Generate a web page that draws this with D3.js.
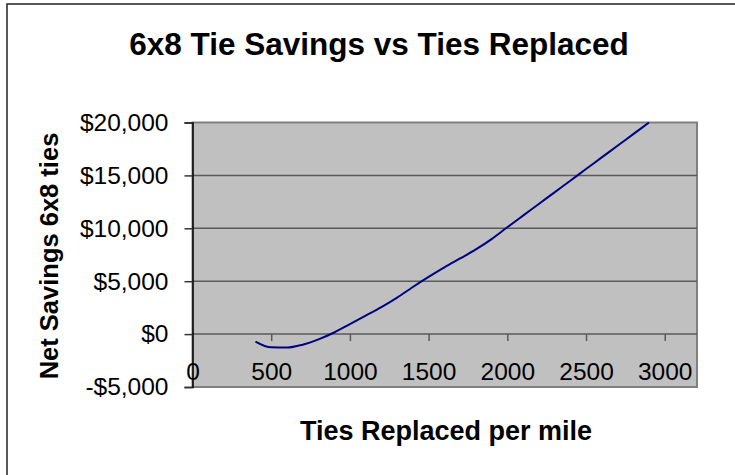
<!DOCTYPE html>
<html lang="en">
<head>
    <meta charset="UTF-8">
    <title>6x8 Tie Savings vs Ties Replaced</title>
    <script src="https://cdnjs.cloudflare.com/ajax/libs/d3/7.8.5/d3.min.js"></script>
    <style type="text/css">
        body { margin: 0; background: #fff; }
        text { font-family: Arial, "Liberation Sans", sans-serif; fill: #000; }
    </style>
</head>
<body>
<svg id="chart" width="735" height="475"></svg>
<script>
    // data
    var tiesReplaced = [400, 500, 600, 700, 800, 900, 1000, 1100, 1200, 1300, 1400, 1500, 1600,
        1700, 1800, 1900, 2000, 2100, 2200, 2300, 2400, 2500, 2600, 2700, 2800, 2900];
    var netSavings = [-700, -1250, -1270, -1000, -500, 150, 950, 1750, 2550, 3450, 4450, 5400, 6300,
        7150, 8000, 8980, 10100, 11200, 12300, 13400, 14500, 15600, 16700, 17800, 18900, 20000];
    var xTicks = [0, 500, 1000, 1500, 2000, 2500, 3000];
    var yTicks = [-5000, 0, 5000, 10000, 15000, 20000];

    var svg = d3.select("#chart");
    var plot = {left: 192.5, right: 697, top: 122.5, bottom: 387};

    var x = d3.scaleLinear().domain([0, 3205]).range([plot.left, plot.right]);
    var y = d3.scaleLinear().domain([-5000, 20000]).range([plot.bottom, plot.top]);

    var data = tiesReplaced.map(function (t, i) {
        return {t: t, v: netSavings[i]};
    });

    // outer frame (runs off the right and bottom edge)
    svg.append("rect")
        .attr("x", 7).attr("y", 4)
        .attr("width", 760).attr("height", 500)
        .attr("fill", "none")
        .attr("stroke", "#222")
        .attr("stroke-width", 1.5);

    // plot background
    svg.append("rect")
        .attr("x", plot.left).attr("y", plot.top)
        .attr("width", plot.right - plot.left)
        .attr("height", plot.bottom - plot.top)
        .attr("fill", "#c0c0c0")
        .attr("stroke", "#808080")
        .attr("stroke-width", 2);

    // gridlines
    svg.append("g")
        .selectAll("line")
        .data(yTicks.filter(function (d) { return d > -5000 && d < 20000; }))
        .join("line")
        .attr("x1", plot.left).attr("x2", plot.right)
        .attr("y1", function (d) { return y(d); })
        .attr("y2", function (d) { return y(d); })
        .attr("stroke", "#5a5a5a")
        .attr("stroke-width", 1.5);

    // y axis
    var yAxis = svg.append("g")
        .attr("transform", "translate(" + plot.left + ",0)")
        .call(d3.axisLeft(y).tickValues(yTicks).tickSize(8).tickPadding(16)
            .tickFormat(function (d) { return (d < 0 ? "-$" : "$") + d3.format(",")(Math.abs(d)); }));
    yAxis.select(".domain").attr("stroke", "#000").attr("stroke-width", 1.5);
    yAxis.selectAll(".tick line").attr("stroke", "#333").attr("stroke-width", 1.5);
    yAxis.selectAll(".tick text")
        .attr("font-size", "24.5px")
        .attr("font-family", "Arial, 'Liberation Sans', sans-serif")
        .attr("fill", "#000");

    // x axis crosses at zero
    var xAxis = svg.append("g")
        .attr("transform", "translate(0," + y(0) + ")")
        .call(d3.axisBottom(x).tickValues(xTicks).tickSize(7).tickPadding(22)
            .tickFormat(d3.format("d")));
    xAxis.select(".domain").remove();
    xAxis.selectAll(".tick line").attr("stroke", "#5a5a5a").attr("stroke-width", 1.5)
        .filter(function (d) { return d === 0; }).remove();
    xAxis.selectAll(".tick text")
        .attr("font-size", "24.5px")
        .attr("font-family", "Arial, 'Liberation Sans', sans-serif")
        .attr("fill", "#000");

    // the series
    svg.append("path")
        .datum(data)
        .attr("fill", "none")
        .attr("stroke", "#000080")
        .attr("stroke-width", 2)
        .attr("stroke-linejoin", "round")
        .attr("d", d3.line()
            .x(function (d) { return x(d.t); })
            .y(function (d) { return y(d.v); })
            .curve(d3.curveMonotoneX));

    // titles
    svg.append("text")
        .attr("x", 379).attr("y", 55)
        .attr("text-anchor", "middle")
        .attr("font-size", "31.5px")
        .attr("font-weight", "bold")
        .text("6x8 Tie Savings vs Ties Replaced");

    svg.append("text")
        .attr("x", 446).attr("y", 440)
        .attr("text-anchor", "middle")
        .attr("font-size", "27px")
        .attr("font-weight", "bold")
        .text("Ties Replaced per mile");

    svg.append("text")
        .attr("text-anchor", "middle")
        .attr("transform", "translate(58,256)rotate(-90)")
        .attr("font-size", "25.5px")
        .attr("font-weight", "bold")
        .text("Net Savings 6x8 ties");
</script>
</body>
</html>
